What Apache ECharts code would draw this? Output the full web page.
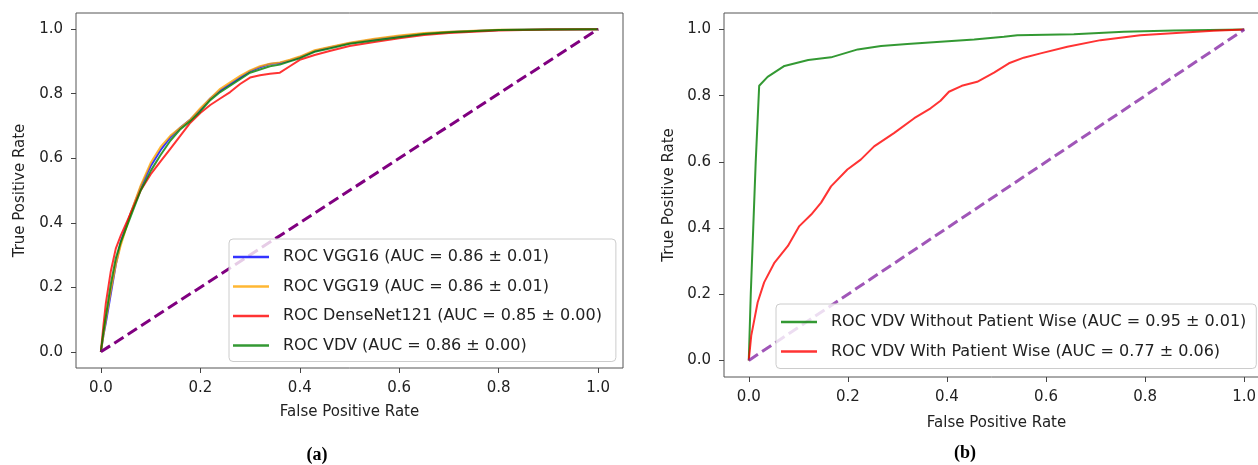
<!DOCTYPE html>
<html>
<head>
<meta charset="utf-8">
<script src="https://cdn.jsdelivr.net/npm/echarts@6/dist/echarts.min.js"></script>
<style>
  html, body { margin: 0; background: #fff; }
  #chart { width: 1258px; height: 465px; }
</style>
</head>
<body>
<div id="chart"></div>
<script>
// tick positions on both axes
const ticks = [0, 0.2, 0.4, 0.6, 0.8, 1.0];

// (a) ROC curves, shared FPR grid
const fprA = [0, 0.005, 0.01, 0.02, 0.03, 0.04, 0.06, 0.08, 0.10, 0.12, 0.14, 0.16, 0.18, 0.20,
  0.22, 0.24, 0.26, 0.28, 0.30, 0.32, 0.34, 0.36, 0.38, 0.40, 0.43, 0.46, 0.50, 0.55, 0.60,
  0.65, 0.70, 0.80, 0.90, 1.0];
const tprVgg16 = [0, 0.05, 0.09, 0.18, 0.27, 0.34, 0.43, 0.51, 0.575, 0.625, 0.665, 0.695, 0.72, 0.75,
  0.785, 0.81, 0.83, 0.85, 0.87, 0.882, 0.892, 0.895, 0.903, 0.913, 0.932, 0.943, 0.956, 0.968, 0.978,
  0.986, 0.991, 0.997, 0.999, 1.0];
const tprVgg19 = [0, 0.05, 0.10, 0.19, 0.27, 0.33, 0.43, 0.515, 0.585, 0.635, 0.67, 0.695, 0.72, 0.755,
  0.785, 0.815, 0.835, 0.855, 0.872, 0.885, 0.893, 0.897, 0.905, 0.915, 0.935, 0.945, 0.958, 0.97, 0.98,
  0.988, 0.992, 0.998, 0.999, 1.0];
const tprDense = [0, 0.08, 0.15, 0.25, 0.32, 0.36, 0.43, 0.50, 0.55, 0.59, 0.63, 0.67, 0.71, 0.74,
  0.765, 0.785, 0.805, 0.83, 0.85, 0.857, 0.862, 0.865, 0.885, 0.905, 0.92, 0.932, 0.948, 0.96, 0.972,
  0.982, 0.988, 0.996, 0.999, 1.0];
const tprVdv = [0, 0.06, 0.11, 0.21, 0.29, 0.34, 0.42, 0.50, 0.56, 0.61, 0.655, 0.69, 0.715, 0.745,
  0.78, 0.805, 0.825, 0.845, 0.865, 0.875, 0.885, 0.89, 0.90, 0.91, 0.93, 0.94, 0.955, 0.965, 0.975,
  0.985, 0.99, 0.997, 0.999, 1.0];

// (b) VDV with / without patient-wise split
const fprNoPw = [0, 0.004, 0.009, 0.014, 0.021, 0.038, 0.072, 0.12, 0.166, 0.22, 0.267, 0.32, 0.387,
  0.455, 0.515, 0.542, 0.656, 0.757, 0.858, 0.93, 1.0];
const tprNoPw = [0, 0.20, 0.40, 0.60, 0.83, 0.857, 0.89, 0.908, 0.916, 0.94, 0.95, 0.956, 0.963,
  0.970, 0.978, 0.983, 0.986, 0.993, 0.997, 0.999, 1.0];
const fprPw = [0, 0.005, 0.018, 0.031, 0.052, 0.079, 0.102, 0.126, 0.146, 0.166, 0.199, 0.226, 0.253,
  0.293, 0.334, 0.367, 0.387, 0.404, 0.43, 0.461, 0.495, 0.525, 0.555, 0.589, 0.643, 0.71, 0.79,
  0.871, 0.938, 1.0];
const tprPw = [0, 0.075, 0.176, 0.236, 0.296, 0.346, 0.406, 0.441, 0.477, 0.526, 0.577, 0.607, 0.647,
  0.687, 0.732, 0.762, 0.785, 0.812, 0.83, 0.842, 0.87, 0.898, 0.915, 0.928, 0.948, 0.968, 0.983,
  0.99, 0.996, 1.0];

// chance line
const diag = [0, 1];

const namesA = [
  'ROC VGG16 (AUC = 0.86 ± 0.01)',
  'ROC VGG19 (AUC = 0.86 ± 0.01)',
  'ROC DenseNet121 (AUC = 0.85 ± 0.00)',
  'ROC VDV (AUC = 0.86 ± 0.00)'
];
const namesB = [
  'ROC VDV Without Patient Wise (AUC = 0.95 ± 0.01)',
  'ROC VDV With Patient Wise (AUC = 0.77 ± 0.06)'
];

const font = 'DejaVu Sans';
const pairs = (xs, ys) => xs.map((x, i) => [x, ys[i]]);

function axis(idx, name, gap) {
  return {
    type: 'value', gridIndex: idx, min: -0.05, max: 1.05,
    name: name, nameLocation: 'middle', nameGap: gap,
    nameTextStyle: { fontFamily: font, fontSize: 15, color: '#222' },
    axisLine: { show: false, onZero: false },
    axisTick: { show: true, length: 5, customValues: ticks, lineStyle: { color: '#444' } },
    axisLabel: {
      customValues: ticks, margin: 13,
      fontFamily: font, fontSize: 15, color: '#222',
      formatter: v => v.toFixed(1)
    },
    splitLine: { show: false }
  };
}

function curve(name, xs, ys, color, xi) {
  return {
    name: name, type: 'line', xAxisIndex: xi, yAxisIndex: xi,
    data: pairs(xs, ys), showSymbol: false, symbol: 'none',
    color: color, lineStyle: { width: 2, color: color }
  };
}

function chance(xi, color) {
  return {
    name: 'chance' + xi, type: 'line', xAxisIndex: xi, yAxisIndex: xi,
    data: pairs(diag, diag), showSymbol: false, symbol: 'none',
    lineStyle: { width: 3, color: color, type: [11, 5] }
  };
}

function legend(names, left, top, pad) {
  return {
    data: names, orient: 'vertical', left: left, top: top,
    icon: 'rect', itemWidth: 36, itemHeight: 2.5, itemGap: 9.5,
    padding: pad, borderColor: '#ccc', borderWidth: 1, borderRadius: 4,
    backgroundColor: 'rgba(255,255,255,0.8)',
    textStyle: { fontFamily: font, fontSize: 16, color: '#222', lineHeight: 20, padding: [0, 0, 0, 9] }
  };
}

const blue = 'rgba(0,0,255,0.8)', orange = 'rgba(255,165,0,0.8)',
  red = 'rgba(255,0,0,0.8)', green = 'rgba(0,128,0,0.8)';

const chart = echarts.init(document.getElementById('chart'), null, { renderer: 'canvas' });
chart.setOption({
  animation: false,
  backgroundColor: '#fff',
  grid: [
    { left: 76, top: 13, width: 547, height: 355, show: true, borderColor: '#555', borderWidth: 1,
      outerBoundsMode: 'none' },
    { left: 724, top: 13, width: 545, height: 364, show: true, borderColor: '#555', borderWidth: 1,
      outerBoundsMode: 'none' }
  ],
  xAxis: [axis(0, 'False Positive Rate', 37), axis(1, 'False Positive Rate', 39)],
  yAxis: [axis(0, 'True Positive Rate', 48), axis(1, 'True Positive Rate', 47)],
  legend: [
    legend(namesA, 229, 239, [8, 14, 6, 4]),
    legend(namesB, 776, 304, [8, 10, 7, 5])
  ],
  graphic: [
    { type: 'text', x: 317, y: 455, style: { text: '(a)', align: 'center', verticalAlign: 'middle',
      font: 'bold 18px "Liberation Serif"', fill: '#000' } },
    { type: 'text', x: 965, y: 453, style: { text: '(b)', align: 'center', verticalAlign: 'middle',
      font: 'bold 18px "Liberation Serif"', fill: '#000' } }
  ],
  series: [
    curve(namesA[0], fprA, tprVgg16, blue, 0),
    curve(namesA[1], fprA, tprVgg19, orange, 0),
    curve(namesA[2], fprA, tprDense, red, 0),
    curve(namesA[3], fprA, tprVdv, green, 0),
    chance(0, '#800080'),
    curve(namesB[0], fprNoPw, tprNoPw, green, 1),
    curve(namesB[1], fprPw, tprPw, red, 1),
    chance(1, 'rgba(128,30,160,0.75)')
  ]
});
</script>
</body>
</html>
